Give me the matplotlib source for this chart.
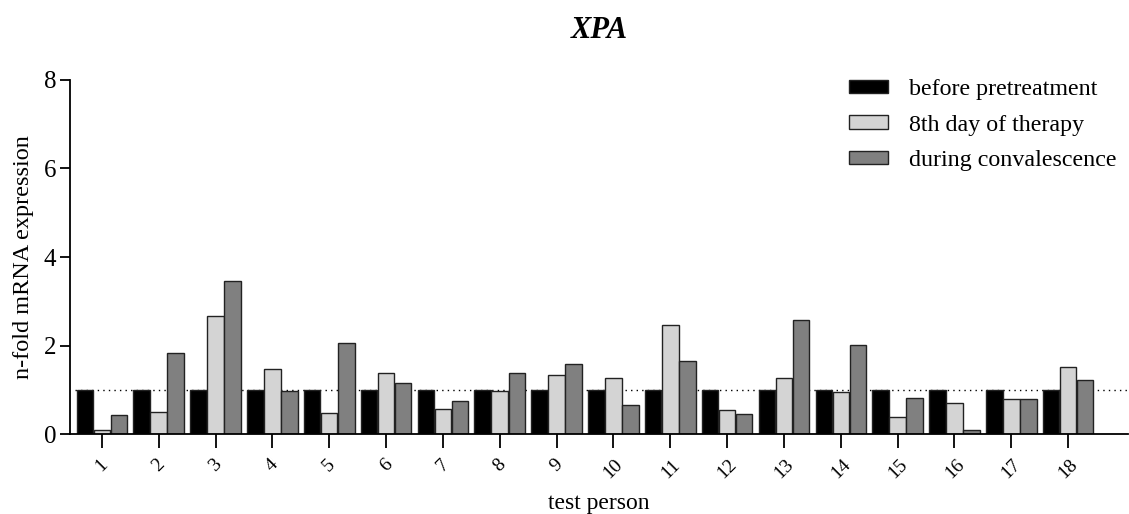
import matplotlib

matplotlib.use("Agg")
import matplotlib.pyplot as plt  # noqa: E402
import matplotlib.transforms as mtransforms  # noqa: E402
import numpy as np  # noqa: E402

persons = [str(i) for i in range(1, 19)]
before = [1.0] * 18
day8 = [0.10, 0.50, 2.66, 1.47, 0.47, 1.37, 0.56, 0.98, 1.33,
        1.27, 2.46, 0.54, 1.27, 0.96, 0.38, 0.70, 0.80, 1.52]
conval = [0.44, 1.83, 3.45, 0.98, 2.06, 1.15, 0.74, 1.39, 1.58,
          0.66, 1.66, 0.46, 2.57, 2.02, 0.81, 0.10, 0.80, 1.22]
labels = ["before pretreatment", "8th day of therapy", "during convalescence"]
colors = ["#000000", "#d4d4d4", "#808080"]

plt.rcParams["font.family"] = ["Liberation Serif", "DejaVu Serif"]

fig = plt.figure(figsize=(11.29, 5.14), dpi=100)
ax = fig.add_axes([0.062, 0.1556, 0.937, 0.6888])

x = np.arange(1, len(persons) + 1)
w = 0.29
for k, (vals, c, lab) in enumerate(zip([before, day8, conval], colors, labels)):
    ax.bar(x + (k - 1) * 0.3, vals, width=w, color=c, edgecolor="#222222",
           linewidth=1.0, label=lab)

# reference level at 1-fold
ax.axhline(1.0, xmin=0.005, color="black", ls=(0, (1, 3)), lw=1.0, zorder=0)

ax.set_xlim(0.44, 19.05)
ax.set_ylim(0, 8)
ax.set_yticks([0, 2, 4, 6, 8])
ax.set_xticks(x)
ax.set_xticklabels(persons, rotation=45, ha="center", va="top", fontsize=14)
# nudge the slanted labels a little to the left of their ticks
shift = mtransforms.ScaledTranslation(-4 / 72, 0, fig.dpi_scale_trans)
for lbl in ax.get_xticklabels():
    lbl.set_transform(lbl.get_transform() + shift)
ax.tick_params(axis="y", labelsize=18, length=7, width=1.3, pad=3)
ax.tick_params(axis="x", length=10, width=1.3, pad=6)
for s in ("top", "right"):
    ax.spines[s].set_visible(False)
for s in ("left", "bottom"):
    ax.spines[s].set_linewidth(1.3)

ax.set_ylabel("n-fold mRNA expression", fontsize=17.5, labelpad=7)
ax.set_xlabel("test person", fontsize=17, labelpad=8)
ax.set_title("XPA", fontsize=22, fontweight="bold", style="italic", pad=30)

ax.legend(loc="upper left", bbox_to_anchor=(0.752, 0.846),
          bbox_transform=fig.transFigure, frameon=False, fontsize=17.3,
          handlelength=1.62, handleheight=0.5, handletextpad=0.87,
          labelspacing=0.6, borderpad=0, borderaxespad=0)

fig.savefig("out.png", dpi=100)
